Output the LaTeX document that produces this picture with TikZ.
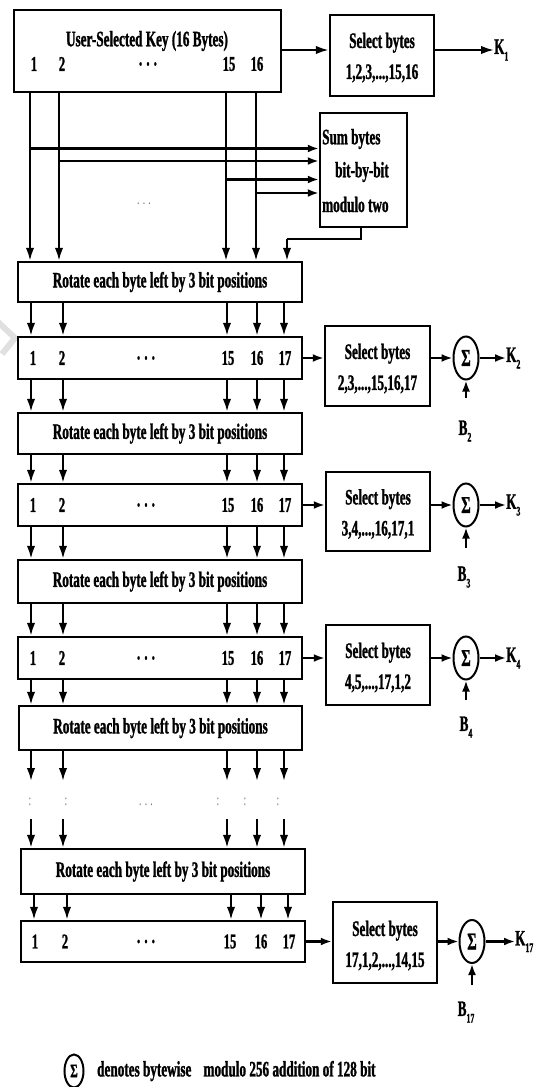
\documentclass[tikz,border=0pt]{standalone}
\usepackage{fontspec}
\setmainfont{Liberation Serif}[FakeStretch=0.6, BoldFeatures={FakeBold=1.2}]
\usetikzlibrary{arrows.meta,shapes.geometric}
\newcommand\Ksub[2]{#1\raisebox{-0.3em}{\fontsize{13}{13}\selectfont #2}}
\begin{document}
\begin{tikzpicture}[x=1pt,y=-1pt,
  txt/.style={font=\fontsize{22}{22}\selectfont\bfseries, inner sep=0pt},
  num/.style={font=\fontsize{21}{21}\selectfont\bfseries, inner sep=0pt},
  seltxt/.style={font=\fontsize{22}{31}\selectfont\bfseries, inner sep=0pt, align=center},
  box/.style={draw, line width=2.5pt, inner sep=0pt},
  sig/.style={draw, ellipse, line width=2pt, inner sep=0pt, minimum width=25, minimum height=43, font=\fontsize{24}{24}\selectfont\bfseries},
  conn/.style={line width=2.2pt, -{Latex[length=13pt,width=8.5pt]}},
  hconn/.style={line width=2.2pt, -{Latex[length=11pt,width=8pt]}},
  line/.style={line width=2.2pt},
  faint/.style={font=\fontsize{16}{16}\selectfont, text=black!55, inner sep=0pt}
]
\useasboundingbox (0,0) rectangle (539,1087);
% watermark chevron
\draw[black!12, line width=6pt] (-2,322) -- (15,338) -- (2,354);

% ---------- top key box ----------
\node[box, minimum width=267, minimum height=82] (top) at (147.5,51) {};
\node[txt] (title) at (147,41) {User-Selected Key (16 Bytes)};
\node[num] (t1) at (34,64) {1};
\node[num] (t2) at (62,64) {2};
\node[num] (td) at (148,64) {. . .};
\node[num] (t15) at (229,64) {15};
\node[num] (t16) at (257,64) {16};

\node[box, minimum width=104, minimum height=81] (sel1) at (382,55.5) {};
\node[seltxt] (sel1t) at (382,57.5) {Select bytes\\1,2,3,...,15,16};
\node[txt, anchor=west] (K1) at (494,50) {\Ksub{K}{1}};
\draw[conn] (top.east |- 0,50) -- (sel1.west |- 0,50);
\draw[conn] (sel1.east |- 0,50) -- (K1.west);

% ---------- sum box ----------
\node[box, minimum width=87, minimum height=114] (sum) at (363.5,170) {};
\node[txt, anchor=west] (sum1) at (322,139) {Sum bytes};
\node[txt, anchor=west] (sum2) at (335,172) {bit-by-bit};
\node[txt, anchor=west] (sum3) at (322,204.5) {modulo two};
\node[faint] (dots0) at (144,204) {. . .};

% ---------- stage nodes ----------
\node[box, minimum width=284, minimum height=40] (rot1) at (160,282) {};
\node[txt] at (rot1.center) (rot1t) {Rotate each byte left by 3 bit positions};

\node[box, minimum width=284, minimum height=42] (byte2) at (160,358) {};
\node[box, minimum width=105, minimum height=80] (sel2) at (377.5,366) {};
\node[seltxt] (sel2t) at (377.5,368.5) {Select bytes\\2,3,...,15,16,17};
\node[sig] (sig2) at (466,358) {Σ};
\node[txt, anchor=west] (K2) at (506,358) {\Ksub{K}{2}};
\node[txt] (B2) at (465,431) {\Ksub{B}{2}};
\coordinate (b2s) at (466,398);

\node[box, minimum width=284, minimum height=41] (rot2) at (160,433.5) {};
\node[txt] (rot2t) at (rot2.center) {Rotate each byte left by 3 bit positions};

\node[box, minimum width=284, minimum height=42] (byte3) at (160,505) {};
\node[box, minimum width=104, minimum height=79] (sel3) at (378,511.5) {};
\node[seltxt] (sel3t) at (378,514) {Select bytes\\3,4,...,16,17,1};
\node[sig] (sig3) at (466,505) {Σ};
\node[txt, anchor=west] (K3) at (506,505) {\Ksub{K}{3}};
\node[txt] (B3) at (464,577) {\Ksub{B}{3}};
\coordinate (b3s) at (466,548);

\node[box, minimum width=284, minimum height=43] (rot3) at (160,581.5) {};
\node[txt] (rot3t) at (rot3.center) {Rotate each byte left by 3 bit positions};

\node[box, minimum width=284, minimum height=42] (byte4) at (160,658) {};
\node[box, minimum width=104, minimum height=80] (sel4) at (378,665) {};
\node[seltxt] (sel4t) at (378,667.5) {Select bytes\\4,5,...,17,1,2};
\node[sig] (sig4) at (466,658) {Σ};
\node[txt, anchor=west] (K4) at (506,658) {\Ksub{K}{4}};
\node[txt] (B4) at (466,727) {\Ksub{B}{4}};
\coordinate (b4s) at (466,700);

\node[box, minimum width=283, minimum height=44] (rot4) at (160.5,728) {};
\node[txt] (rot4t) at (rot4.center) {Rotate each byte left by 3 bit positions};

\node[box, minimum width=284, minimum height=45] (rot5) at (163,871.5) {};
\node[txt] (rot5t) at (rot5.center) {Rotate each byte left by 3 bit positions};

\node[box, minimum width=284, minimum height=41] (byte5) at (163,941.5) {};
\node[box, minimum width=104, minimum height=81] (sel5) at (385,942.5) {};
\node[seltxt] (sel5t) at (385,945.5) {Select bytes\\17,1,2,...,14,15};
\node[sig] (sig5) at (472,941.5) {Σ};
\node[txt, anchor=west] (K17) at (515,941.5) {\Ksub{K}{17}};
\node[txt] (B17) at (466,1012) {\Ksub{B}{17}};
\coordinate (b5s) at (472,985);

% byte numbers rows 2-4
\foreach \r in {byte2,byte3,byte4}{
  \node[num] (\r n1) at ([xshift=-127pt]\r.center) {1};
  \node[num] (\r n2) at ([xshift=-98pt]\r.center) {2};
  \node[num] (\r nd) at ([xshift=-14pt]\r.center) {. . .};
  \node[num] (\r n15) at ([xshift=68pt]\r.center) {15};
  \node[num] (\r n16) at ([xshift=97pt]\r.center) {16};
  \node[num] (\r n17) at ([xshift=125pt]\r.center) {17};
}
\node[num] (b5n1) at (35,941.5) {1};
\node[num] (b5n2) at (65,941.5) {2};
\node[num] (b5nd) at (146,941.5) {. . .};
\node[num] (b5n15) at (230,941.5) {15};
\node[num] (b5n16) at (261,941.5) {16};
\node[num] (b5n17) at (289,941.5) {17};

% ---------- connectors top -> sum / rot1 ----------
\foreach \x/\y in {30/148.5, 59/161, 226/179.5, 256/193}{
  \coordinate (j\x) at (\x,\y);
  \draw[conn] (top.south -| j\x) -- (rot1.north -| j\x);
  \draw[hconn] (j\x) -- (sum.west |- j\x);
}
\coordinate (fb1) at (361,239);
\coordinate (fb2) at (287,239);
\draw[line] (sum.south -| fb1) -- (fb1) -- (fb2);
\draw[conn] (fb2) -- (rot1.north -| fb2);

% vertical arrows between stages
\foreach \a/\b in {rot1/byte2, byte2/rot2, rot2/byte3, byte3/rot3, rot3/byte4, byte4/rot4}{
  \foreach \x in {31,63,227,257,284}{
    \coordinate (c\x) at (\x,0);
    \draw[conn] (\a.south -| c\x) -- (\b.north -| c\x);
  }
}
% skipped stages
\foreach \x/\cx in {31/30, 63/66, 227/218, 257/245, 284/278}{
  \coordinate (u\x) at (\x,781);
  \coordinate (v\x) at (\x,819);
  \draw[conn] (rot4.south -| u\x) -- (u\x);
  \draw[conn] (v\x) -- (rot5.north -| v\x);
  \node[faint] (colon\x) at (\cx,802) {:};
}
\node[faint] (dotsk) at (146,805) {. . .};
\foreach \x in {34,67,231,261,288}{
  \coordinate (d\x) at (\x,0);
  \draw[conn] (rot5.south -| d\x) -- (byte5.north -| d\x);
}

% horizontal chains
\foreach \r/\s/\g/\k/\bs in {byte2/sel2/sig2/K2/b2s, byte3/sel3/sig3/K3/b3s, byte4/sel4/sig4/K4/b4s, byte5/sel5/sig5/K17/b5s}{
  \draw[hconn] (\r.east) -- (\s.west |- \r.east);
  \draw[hconn] (\s.east |- \r.east) -- (\g.west);
  \draw[hconn] (\g.east) -- (\k.west);
  \draw[hconn] (\bs) -- (\g.south);
}

% legend
\node[sig, minimum width=19, minimum height=33, font=\fontsize{19}{19}\selectfont\bfseries] (legsig) at (74,1071) {Σ};
\node[txt, anchor=west] (legtxt) at (97,1071) {denotes bytewise\hspace{0.4em} modulo 256 addition of 128 bit};
\end{tikzpicture}
\end{document}
